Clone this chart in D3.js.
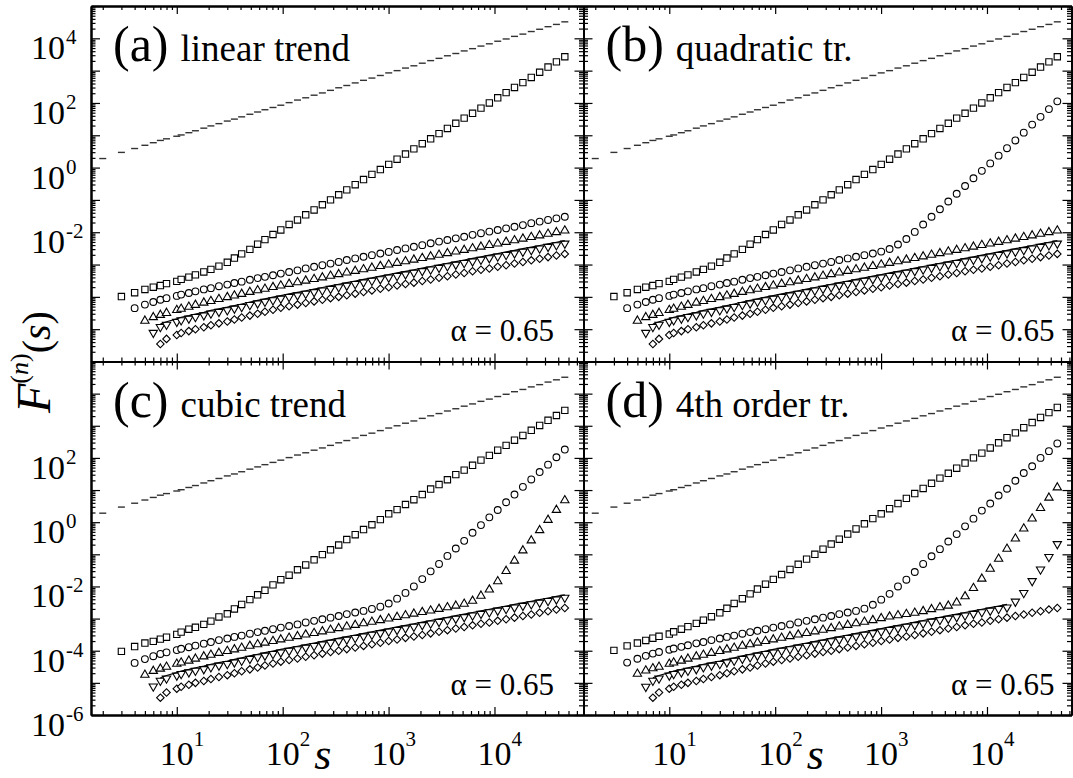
<!DOCTYPE html>
<html>
<head>
<meta charset="utf-8">
<script src="https://cdn.jsdelivr.net/npm/d3@7"></script>
<style>
  html, body { margin: 0; padding: 0; background: #fff; }
  svg { display: block; }
</style>
</head>
<body>
<svg id="chart" width="1073" height="778"></svg>
<script>
// window sizes s (same for every curve)
var sValues = [
  2, 3, 4, 5, 6, 7, 8, 10, 11, 13,
  15, 18, 21, 25, 30, 35, 41, 49, 58, 68,
  81, 96, 115, 138, 165, 198, 237, 283, 338, 403,
  484, 580, 696, 836, 1003, 1203, 1444, 1733, 2080, 2496,
  2995, 3594, 4313, 5175, 6210, 7452, 8943, 10731, 12878, 15453,
  18544, 22253, 26703, 32044, 38453, 46143
];

// log10 F(s), null where a curve has no point
var dashLog = [
  0.28, 0.47, 0.59, 0.69, 0.77, 0.84, 0.89, 0.97, 1.01, 1.08,
  1.14, 1.22, 1.29, 1.36, 1.44, 1.50, 1.57, 1.65, 1.72, 1.79,
  1.86, 1.93, 2.01, 2.09, 2.16, 2.24, 2.31, 2.39, 2.47, 2.54,
  2.62, 2.70, 2.77, 2.85, 2.93, 3.00, 3.08, 3.15, 3.23, 3.31,
  3.38, 3.46, 3.53, 3.61, 3.68, 3.76, 3.83, 3.91, 3.98, 4.06,
  4.13, 4.21, 4.28, 4.36, 4.43, 4.51
];

var squareA = [
  null, -3.99, -3.87, -3.77, -3.70, -3.65, -3.59, -3.52, -3.46, -3.39,
  -3.32, -3.23, -3.15, -3.05, -2.93, -2.80, -2.67, -2.53, -2.37, -2.23,
  -2.07, -1.93, -1.76, -1.62, -1.46, -1.31, -1.15, -1.00, -0.84, -0.69,
  -0.53, -0.37, -0.21, -0.06, 0.10, 0.26, 0.42, 0.58, 0.74, 0.89,
  1.05, 1.21, 1.37, 1.53, 1.68, 1.84, 2.00, 2.16, 2.32, 2.48,
  2.63, 2.79, 2.95, 3.11, 3.27, 3.43
];
var squareC = [
  null, -4.02, -3.87, -3.76, -3.71, -3.64, -3.58, -3.49, -3.42, -3.33,
  -3.27, -3.18, -3.08, -2.95, -2.85, -2.70, -2.56, -2.41, -2.26, -2.12,
  -1.95, -1.79, -1.65, -1.48, -1.33, -1.17, -1.01, -0.86, -0.71, -0.54,
  -0.39, -0.23, -0.08, 0.08, 0.26, 0.39, 0.55, 0.70, 0.86, 1.03,
  1.17, 1.32, 1.48, 1.62, 1.77, 1.93, 2.08, 2.24, 2.39, 2.55,
  2.70, 2.86, 3.01, 3.17, 3.32, 3.48
];
var squareD = [
  null, -3.99, -3.85, -3.76, -3.68, -3.61, -3.55, -3.48, -3.41, -3.33,
  -3.25, -3.15, -3.05, -2.94, -2.82, -2.68, -2.53, -2.38, -2.23, -2.08,
  -1.93, -1.78, -1.63, -1.47, -1.31, -1.15, -1.00, -0.84, -0.68, -0.53,
  -0.37, -0.21, -0.05, 0.11, 0.26, 0.42, 0.58, 0.74, 0.89, 1.05,
  1.21, 1.37, 1.52, 1.68, 1.84, 2.00, 2.15, 2.31, 2.47, 2.63,
  2.78, 2.94, 3.10, 3.26, 3.41, 3.57
];

var circleA = [
  null, null, -4.35, -4.24, -4.16, -4.09, -4.04, -3.97, -3.93, -3.88,
  -3.83, -3.77, -3.73, -3.67, -3.62, -3.57, -3.53, -3.47, -3.42, -3.38,
  -3.33, -3.28, -3.23, -3.18, -3.12, -3.07, -3.02, -2.97, -2.92, -2.86,
  -2.81, -2.76, -2.71, -2.66, -2.61, -2.55, -2.50, -2.45, -2.40, -2.34,
  -2.29, -2.24, -2.19, -2.14, -2.08, -2.03, -1.98, -1.93, -1.88, -1.83,
  -1.78, -1.72, -1.67, -1.62, -1.57, -1.52
];
var circleB = [
  null, null, -4.35, -4.24, -4.16, -4.09, -4.04, -3.97, -3.93, -3.88,
  -3.83, -3.77, -3.73, -3.67, -3.62, -3.57, -3.53, -3.47, -3.42, -3.38,
  -3.33, -3.28, -3.23, -3.18, -3.12, -3.07, -3.02, -2.97, -2.92, -2.86,
  -2.81, -2.76, -2.71, -2.66, -2.60, -2.52, -2.38, -2.21, -1.99, -1.76,
  -1.52, -1.29, -1.05, -0.81, -0.57, -0.33, -0.10, 0.13, 0.37, 0.60,
  0.84, 1.08, 1.33, 1.57, 1.81, 2.05
];
var circleC = [
  null, null, -4.38, -4.26, -4.17, -4.10, -4.05, -3.98, -3.94, -3.89,
  -3.84, -3.78, -3.73, -3.67, -3.62, -3.57, -3.53, -3.47, -3.42, -3.38,
  -3.33, -3.28, -3.23, -3.18, -3.12, -3.07, -3.02, -2.97, -2.92, -2.86,
  -2.81, -2.76, -2.70, -2.63, -2.53, -2.38, -2.20, -2.00, -1.77, -1.53,
  -1.30, -1.05, -0.82, -0.58, -0.33, -0.09, 0.15, 0.38, 0.62, 0.86,
  1.10, 1.33, 1.56, 1.79, 2.02, 2.26
];
var circleD = [
  null, null, -4.37, -4.25, -4.16, -4.09, -4.04, -3.97, -3.93, -3.88,
  -3.83, -3.77, -3.73, -3.67, -3.62, -3.57, -3.53, -3.47, -3.42, -3.38,
  -3.33, -3.28, -3.23, -3.18, -3.12, -3.07, -3.02, -2.97, -2.92, -2.86,
  -2.81, -2.76, -2.69, -2.57, -2.41, -2.23, -2.00, -1.79, -1.55, -1.30,
  -1.06, -0.84, -0.60, -0.37, -0.13, 0.11, 0.36, 0.58, 0.83, 1.04,
  1.29, 1.53, 1.74, 2.00, 2.21, 2.45
];

var upA = [
  null, null, null, -4.74, -4.63, -4.56, -4.50, -4.41, -4.37, -4.31,
  -4.25, -4.18, -4.13, -4.07, -4.01, -3.96, -3.91, -3.85, -3.80, -3.75,
  -3.70, -3.65, -3.60, -3.55, -3.50, -3.45, -3.40, -3.35, -3.30, -3.25,
  -3.20, -3.15, -3.10, -3.05, -3.00, -2.95, -2.90, -2.85, -2.80, -2.75,
  -2.70, -2.65, -2.60, -2.55, -2.50, -2.45, -2.40, -2.35, -2.30, -2.25,
  -2.20, -2.15, -2.10, -2.05, -2.00, -1.95
];
var upC = [
  null, null, null, -4.75, -4.63, -4.56, -4.50, -4.41, -4.37, -4.31,
  -4.25, -4.18, -4.13, -4.07, -4.01, -3.96, -3.91, -3.85, -3.80, -3.75,
  -3.70, -3.65, -3.60, -3.55, -3.50, -3.45, -3.40, -3.35, -3.30, -3.25,
  -3.20, -3.15, -3.10, -3.05, -3.00, -2.95, -2.90, -2.85, -2.80, -2.75,
  -2.70, -2.65, -2.60, -2.54, -2.45, -2.29, -2.10, -1.84, -1.52, -1.20,
  -0.88, -0.57, -0.25, 0.07, 0.38, 0.68
];
var upD = [
  null, null, null, -4.72, -4.62, -4.55, -4.50, -4.41, -4.37, -4.31,
  -4.25, -4.18, -4.13, -4.07, -4.01, -3.96, -3.91, -3.85, -3.80, -3.75,
  -3.70, -3.65, -3.60, -3.55, -3.50, -3.45, -3.40, -3.35, -3.30, -3.25,
  -3.20, -3.15, -3.10, -3.05, -2.99, -2.94, -2.90, -2.86, -2.82, -2.77,
  -2.71, -2.65, -2.60, -2.50, -2.31, -2.05, -1.76, -1.45, -1.14, -0.83,
  -0.51, -0.20, 0.11, 0.44, 0.76, 1.08
];

var downA = [
  null, null, null, null, -5.11, -4.93, -4.86, -4.77, -4.72, -4.67,
  -4.62, -4.57, -4.51, -4.46, -4.41, -4.36, -4.31, -4.25, -4.20, -4.15,
  -4.10, -4.05, -4.00, -3.95, -3.90, -3.85, -3.80, -3.75, -3.70, -3.65,
  -3.60, -3.55, -3.50, -3.45, -3.40, -3.35, -3.30, -3.25, -3.20, -3.15,
  -3.10, -3.05, -3.00, -2.95, -2.90, -2.85, -2.80, -2.75, -2.70, -2.65,
  -2.60, -2.55, -2.50, -2.45, -2.40, -2.35
];
var downD = [
  null, null, null, null, -5.12, -4.93, -4.86, -4.77, -4.72, -4.67,
  -4.62, -4.57, -4.51, -4.46, -4.41, -4.36, -4.31, -4.25, -4.20, -4.15,
  -4.10, -4.05, -4.00, -3.95, -3.90, -3.85, -3.80, -3.75, -3.70, -3.65,
  -3.60, -3.55, -3.50, -3.45, -3.40, -3.35, -3.30, -3.25, -3.20, -3.15,
  -3.09, -3.04, -3.00, -2.95, -2.90, -2.85, -2.80, -2.75, -2.70, -2.65,
  -2.47, -2.20, -1.83, -1.47, -1.08, -0.68
];

var diamondA = [
  null, null, null, null, null, -5.46, -5.30, -5.18, -5.12, -5.06,
  -5.00, -4.94, -4.88, -4.82, -4.76, -4.70, -4.64, -4.58, -4.52, -4.46,
  -4.40, -4.34, -4.29, -4.24, -4.19, -4.14, -4.09, -4.04, -4.00, -3.95,
  -3.90, -3.85, -3.80, -3.75, -3.70, -3.65, -3.60, -3.56, -3.51, -3.46,
  -3.41, -3.36, -3.31, -3.26, -3.21, -3.16, -3.12, -3.07, -3.02, -2.97,
  -2.92, -2.87, -2.82, -2.77, -2.72, -2.67
];

// solid curve riding on top of the down-triangles
var lineA = [
  null, null, null, null, null, -4.84, -4.77, -4.68, -4.63, -4.58,
  -4.53, -4.48, -4.42, -4.37, -4.32, -4.27, -4.22, -4.16, -4.11, -4.06,
  -4.01, -3.96, -3.91, -3.86, -3.81, -3.76, -3.71, -3.66, -3.61, -3.56,
  -3.51, -3.46, -3.41, -3.36, -3.31, -3.26, -3.21, -3.16, -3.11, -3.06,
  -3.01, -2.96, -2.91, -2.86, -2.81, -2.76, -2.71, -2.66, -2.61, -2.56,
  -2.51, -2.46, -2.41, -2.36, -2.31, -2.26
];
var lineD = [
  null, null, null, null, null, -4.84, -4.77, -4.68, -4.63, -4.58,
  -4.53, -4.48, -4.42, -4.37, -4.32, -4.27, -4.22, -4.16, -4.11, -4.06,
  -4.01, -3.96, -3.91, -3.86, -3.81, -3.76, -3.71, -3.66, -3.61, -3.56,
  -3.51, -3.46, -3.41, -3.36, -3.31, -3.26, -3.21, -3.16, -3.11, -3.06,
  -3.01, -2.96, -2.91, -2.86, -2.81, -2.76, -2.71, -2.66, -2.61, -2.56,
  null, null, null, null, null, null
];

var xTickExps = [1, 2, 3, 4];
var yTickExpsTop = [4, 2, 0, -2];
var yTickExpsBottom = [2, 0, -2, -4, -6];
var alphaText = '\u03b1 = 0.65';

var panels = [
  {tag: '(a)', name: 'linear trend', col: 0, row: 0,
   square: squareA, circle: circleA, up: upA, down: downA, diamond: diamondA, line: lineA},
  {tag: '(b)', name: 'quadratic tr.', col: 1, row: 0,
   square: squareA, circle: circleB, up: upA, down: downA, diamond: diamondA, line: lineA},
  {tag: '(c)', name: 'cubic trend', col: 0, row: 1,
   square: squareC, circle: circleC, up: upC, down: downA, diamond: diamondA, line: lineA},
  {tag: '(d)', name: '4th order tr.', col: 1, row: 1,
   square: squareD, circle: circleD, up: upD, down: downD, diamond: diamondA, line: lineD}
];

// layout
var SERIF = 'Liberation Serif, Tinos, DejaVu Serif, Noto Serif, serif';
var cols = [{x0: 91, x1: 583.5, alphaPad: 29.5}, {x0: 583.5, x1: 1071.5, alphaPad: 17}];
var rows = [{y0: 6, y1: 361.5}, {y0: 361.5, y1: 715}];
var decadePx = 105.9;
var xMinExp = 0.19;

var svg = d3.select('#chart');
svg.append('rect').attr('width', 1073).attr('height', 778).attr('fill', '#fff');

var decades = function (lo, hi) {
  var major = [], minor = [];
  for (var e = lo; e <= hi; e++) {
    major.push(Math.pow(10, e));
    for (var k = 2; k <= 9; k++) minor.push(k * Math.pow(10, e));
  }
  return {major: major, minor: minor};
};

var pts = function (arr) {
  return sValues.map(function (s, i) { return {s: s, v: arr[i]}; })
                .filter(function (d) { return d.v !== null; });
};

var styleAxis = function (g) {
  g.attr('font-family', null);
  g.select('.domain').attr('stroke', '#000').attr('stroke-width', 2);
  g.selectAll('.tick line').attr('stroke', '#000').attr('stroke-width', 1.2);
  g.selectAll('.tick text').remove();
};

var label = function (sel, size, italic) {
  return sel.attr('font-family', SERIF).attr('font-size', size)
            .attr('font-style', italic ? 'italic' : 'normal');
};

panels.forEach(function (p) {
  var c = cols[p.col], r = rows[p.row];
  var x = d3.scaleLog()
      .domain([Math.pow(10, xMinExp), Math.pow(10, xMinExp + (c.x1 - c.x0) / decadePx)])
      .range([c.x0, c.x1]);
  var y = d3.scaleLog().domain([1e-6, 1e5]).range([r.y1, r.y0]);

  var xd = decades(0, 5), yd = decades(-6, 5);
  var inX = function (v) { return v >= x.domain()[0] && v <= x.domain()[1]; };
  var inY = function (v) { return v >= 1e-6 && v <= 1e5; };
  var xMaj = xd.major.filter(inX), xMin = xd.minor.filter(inX);
  var yMaj = yd.major.filter(inY), yMin = yd.minor.filter(inY);

  var g = svg.append('g');

  // inward ticks on all four sides
  [[xMaj, 8], [xMin, 4]].forEach(function (t) {
    g.append('g').attr('transform', 'translate(0,' + r.y1 + ')')
      .call(d3.axisBottom(x).tickValues(t[0]).tickSize(-t[1]).tickSizeOuter(0).tickFormat(''))
      .call(styleAxis);
    g.append('g').attr('transform', 'translate(0,' + r.y0 + ')')
      .call(d3.axisTop(x).tickValues(t[0]).tickSize(-t[1]).tickSizeOuter(0).tickFormat(''))
      .call(styleAxis);
  });
  [[yMaj, 9], [yMin, 4.5]].forEach(function (t) {
    g.append('g').attr('transform', 'translate(' + c.x0 + ',0)')
      .call(d3.axisLeft(y).tickValues(t[0]).tickSize(-t[1]).tickSizeOuter(0).tickFormat(''))
      .call(styleAxis);
    g.append('g').attr('transform', 'translate(' + c.x1 + ',0)')
      .call(d3.axisRight(y).tickValues(t[0]).tickSize(-t[1]).tickSizeOuter(0).tickFormat(''))
      .call(styleAxis);
  });

  var px = function (d) { return x(d.s); };
  var py = function (d) { return y(Math.pow(10, d.v)); };

  // dashes
  g.append('g').selectAll('line').data(pts(dashLog)).join('line')
      .attr('x1', function (d) { return px(d) - 3.5; })
      .attr('x2', function (d) { return px(d) + 3.5; })
      .attr('y1', py).attr('y2', py)
      .attr('stroke', '#333').attr('stroke-width', 1.4);

  var marker = function (arr, type, size, rot) {
    g.append('g').selectAll('path').data(pts(arr)).join('path')
        .attr('d', d3.symbol().type(type).size(size))
        .attr('transform', function (d) {
          return 'translate(' + px(d) + ',' + py(d) + ')' + (rot ? ' rotate(' + rot + ')' : '');
        })
        .attr('fill', '#fff').attr('stroke', '#000').attr('stroke-width', 1.1);
  };
  marker(p.square, d3.symbolSquare, 40, 0);
  marker(p.circle, d3.symbolCircle, 36, 0);
  marker(p.up, d3.symbolTriangle, 30, 0);
  marker(p.down, d3.symbolTriangle, 30, 180);
  marker(p.diamond, d3.symbolSquare, 28, 45);

  g.append('path').datum(pts(p.line))
      .attr('d', d3.line().x(px).y(py))
      .attr('fill', 'none').attr('stroke', '#000').attr('stroke-width', 1.2);

  // panel title
  var t = label(g.append('text'), 50, false).attr('x', c.x0 + 22).attr('y', r.y0 + 55);
  label(t.append('tspan'), 50, false).text(p.tag);
  label(t.append('tspan').attr('dx', 12), 37, false).text(p.name);

  label(g.append('text'), 31, false)
      .attr('x', c.x1 - c.alphaPad).attr('y', r.y1 - 20.5)
      .attr('text-anchor', 'end')
      .text(alphaText);

  // y tick labels on the left column
  if (p.col === 0) {
    var exps = p.row === 0 ? yTickExpsTop : yTickExpsBottom;
    exps.forEach(function (e) {
      var yy = y(Math.pow(10, e));
      label(g.append('text'), 34, false).attr('x', c.x0 - 26).attr('y', yy + 21)
          .attr('text-anchor', 'end').text('10');
      label(g.append('text'), 21, false).attr('x', c.x0 - 25).attr('y', yy + 6)
          .text(e);
    });
  }
  // x tick labels under the bottom row
  if (p.row === 1) {
    xTickExps.forEach(function (e) {
      var xx = x(Math.pow(10, e));
      label(g.append('text'), 34, false).attr('x', xx).attr('y', r.y1 + 50)
          .attr('text-anchor', 'middle').text('10');
      label(g.append('text'), 21, false).attr('x', xx + 17).attr('y', r.y1 + 31)
          .text(e);
    });
    label(g.append('text'), 44, true)
        .attr('x', x(Math.pow(10, 2.38))).attr('y', r.y1 + 54)
        .attr('text-anchor', 'middle')
        .text('s');
  }
});

// y axis title F^(n)(s)
var yt = label(svg.append('text'), 40, false)
    .attr('transform', 'translate(50,362) rotate(-90)')
    .attr('text-anchor', 'middle');
label(yt.append('tspan'), 48, true).text('F');
label(yt.append('tspan').attr('dy', -22), 26, false).text('(');
label(yt.append('tspan'), 26, true).text('n');
label(yt.append('tspan'), 26, false).text(')');
label(yt.append('tspan').attr('dy', 22), 40, false).text('(');
label(yt.append('tspan'), 40, true).text('s');
label(yt.append('tspan'), 40, false).text(')');
</script>
</body>
</html>
